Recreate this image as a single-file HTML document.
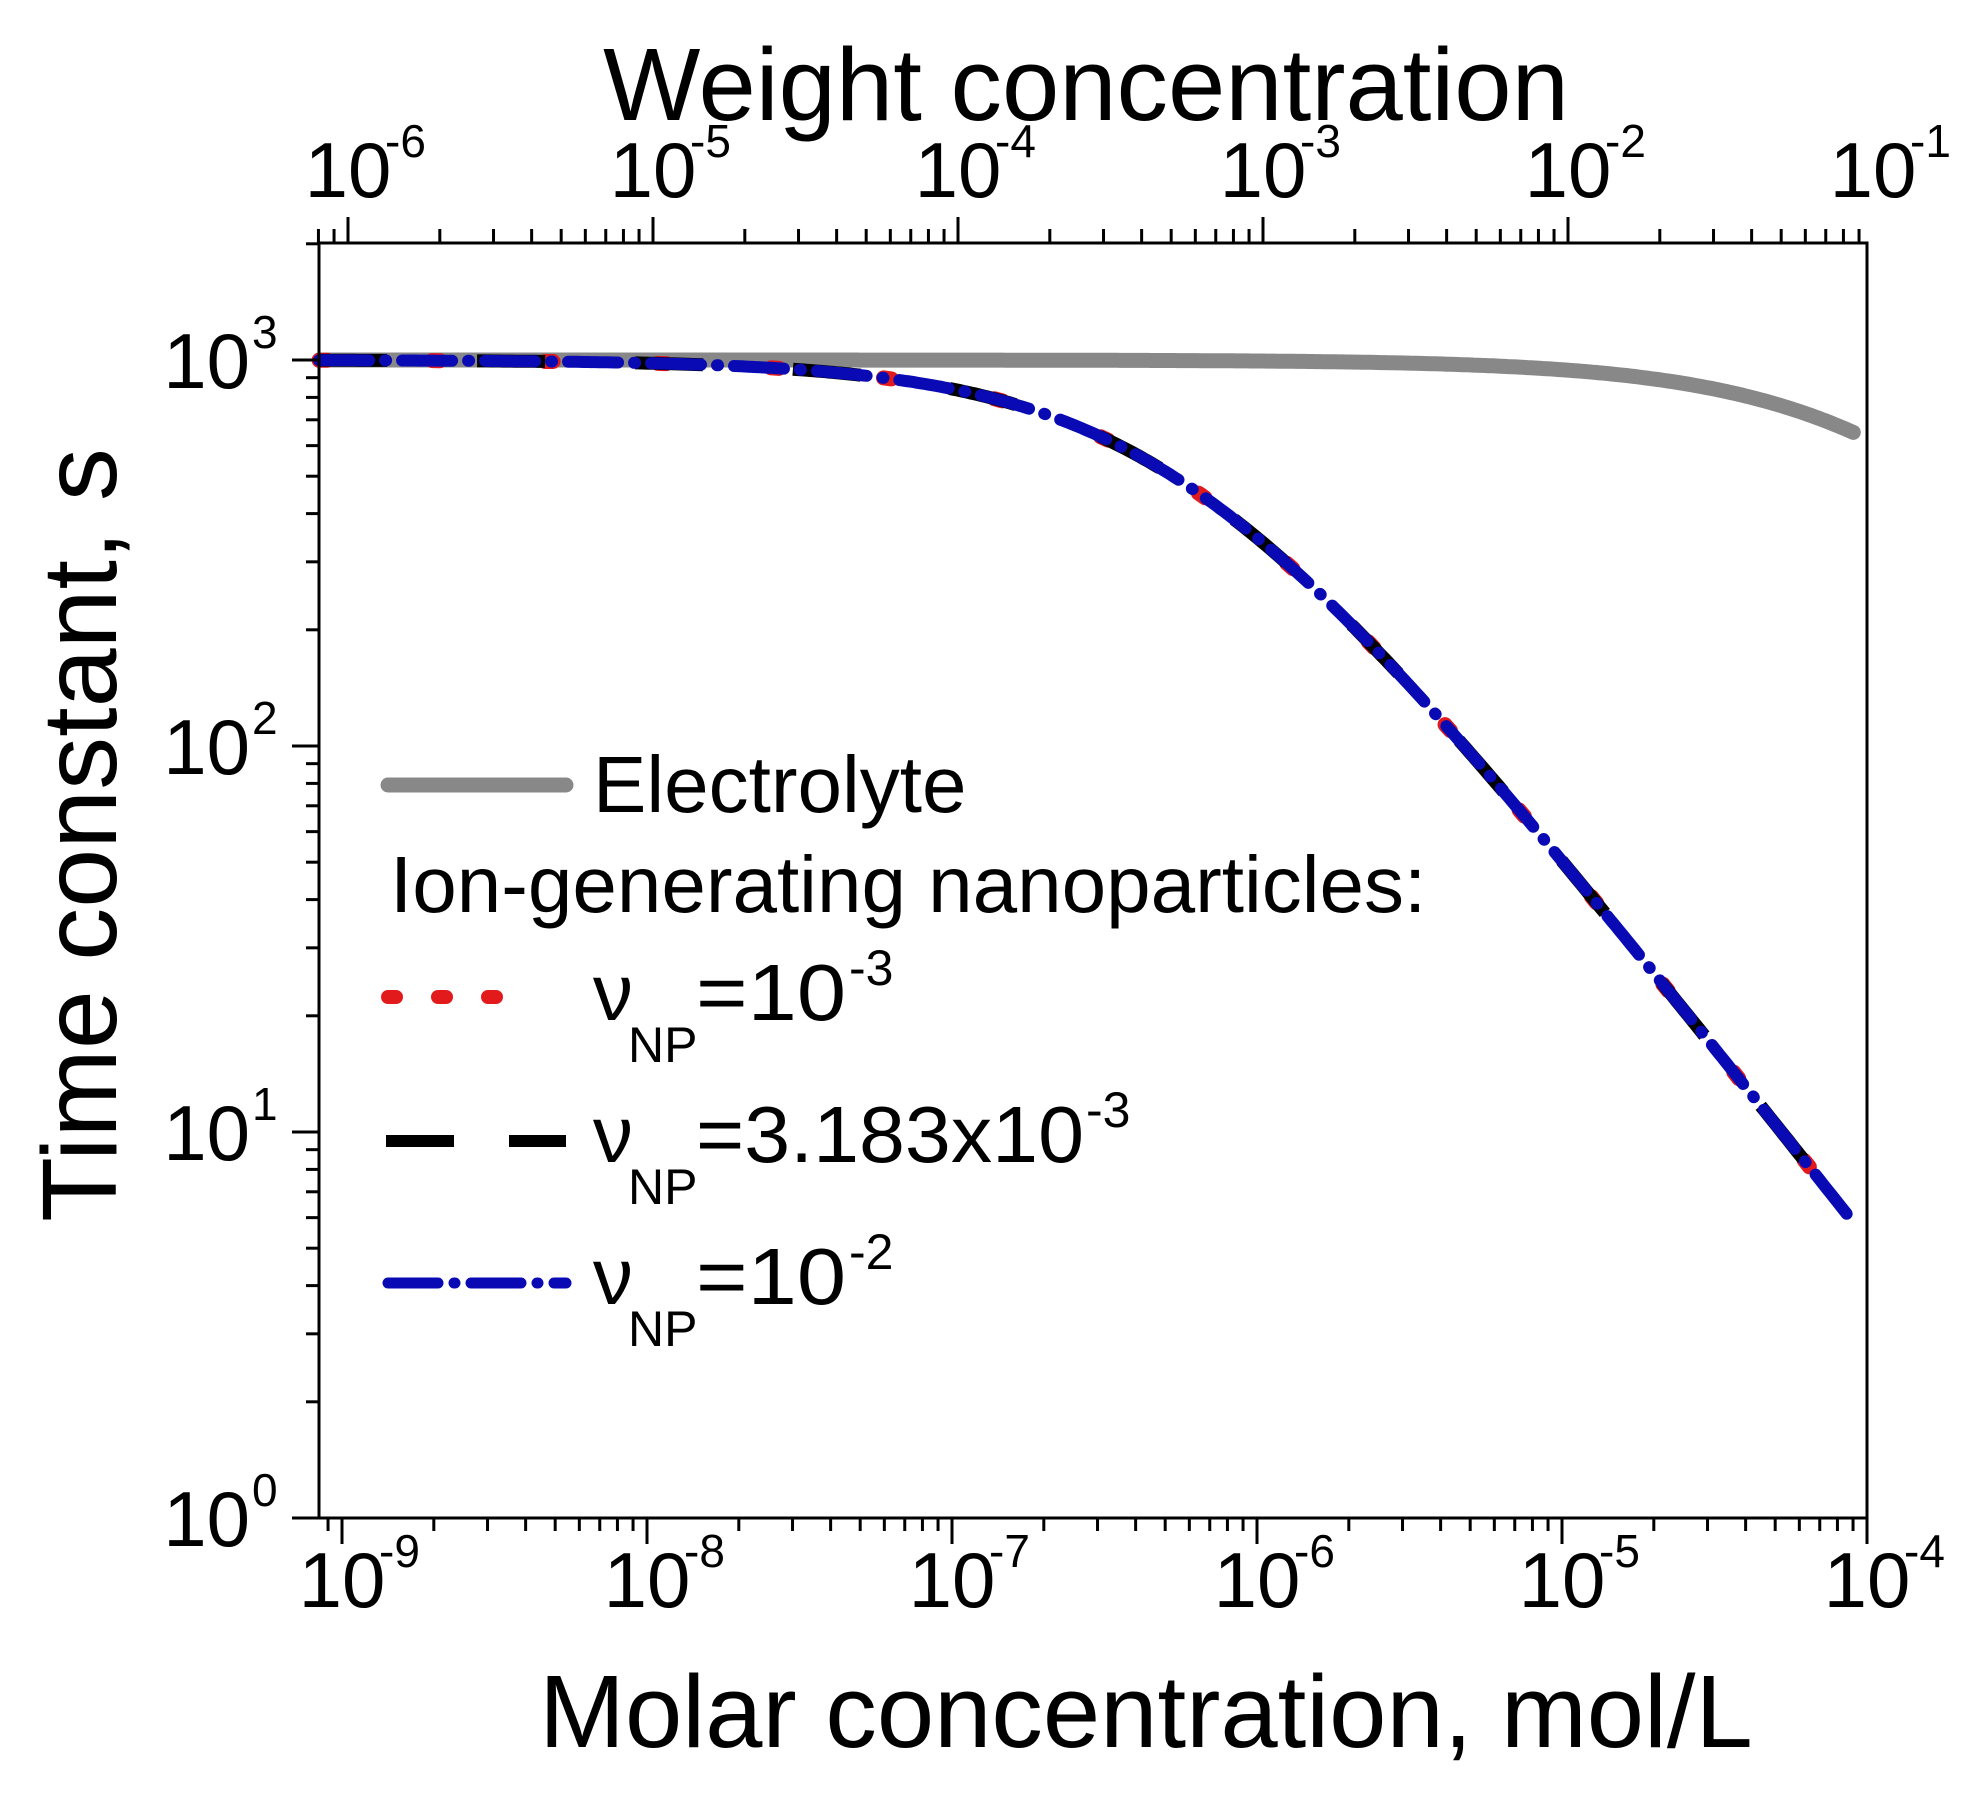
<!DOCTYPE html>
<html><head><meta charset="utf-8"><style>
html,body{margin:0;padding:0;background:#fff;}
svg{display:block;}
text{font-family:"Liberation Sans",Arial,sans-serif;fill:#000;}
</style></head><body>
<svg id="s" width="1982" height="1800" xmlns="http://www.w3.org/2000/svg">
<rect x="0" y="0" width="1982" height="1800" fill="#fff"/>
<g id="g"></g>
<text x="1086" y="120" font-size="103" text-anchor="middle">Weight concentration</text>
<text x="1146" y="1747" font-size="103" text-anchor="middle">Molar concentration, mol/L</text>
<text transform="translate(116,835) rotate(-90)" font-size="106" text-anchor="middle">Time constant, s</text>
<line x1="388" y1="785" x2="566" y2="785" stroke="#888" stroke-width="15" stroke-linecap="round"/>
<text x="593" y="812" font-size="80">Electrolyte</text>
<text x="390" y="912" font-size="80">Ion-generating nanoparticles:</text>
<line x1="388" y1="997" x2="502" y2="997" stroke="#e31a1c" stroke-width="14" stroke-linecap="round" stroke-dasharray="8 42"/>
<line x1="386" y1="1141" x2="566" y2="1141" stroke="#000" stroke-width="12" stroke-dasharray="68 55"/>
<line x1="388" y1="1283" x2="566" y2="1283" stroke="#0a0ab4" stroke-width="11" stroke-linecap="round" stroke-dasharray="50 16 1 16"/>
<text x="593" y="1020" font-size="80">ν</text><text x="628" y="1062" font-size="50">NP</text><text x="696" y="1020" font-size="80" textLength="150" lengthAdjust="spacingAndGlyphs">=10</text><text x="849" y="985" font-size="50">-3</text>
<text x="593" y="1162" font-size="80">ν</text><text x="628" y="1204" font-size="50">NP</text><text x="696" y="1162" font-size="80" textLength="388" lengthAdjust="spacingAndGlyphs">=3.183x10</text><text x="1086" y="1127" font-size="50">-3</text>
<text x="593" y="1304" font-size="80">ν</text><text x="628" y="1346" font-size="50">NP</text><text x="696" y="1304" font-size="80" textLength="150" lengthAdjust="spacingAndGlyphs">=10</text><text x="849" y="1269" font-size="50">-2</text>
</svg>
<script>
(function(){
var NS="http://www.w3.org/2000/svg",g=document.getElementById("g");
function el(t,a,txt){var e=document.createElementNS(NS,t);for(var k in a)e.setAttribute(k,a[k]);if(txt!=null)e.textContent=txt;g.appendChild(e);return e;}
var L=319,R=1867,T=243,B=1518;
var X9=342,DX=305;
var Y3=360,DY=386;
function px(lc){return X9+(lc+9)*DX;}
function py(lt){return Y3-(lt-3)*DY;}
function path(f){var d="";var a=-9.075,b=-4.045;for(var i=0;i<=400;i++){var lc=a+i*((b-a)/400);var c=Math.pow(10,lc);var t=f(c);d+=(i?"L":"M")+px(lc).toFixed(1)+","+py(Math.log10(t)).toFixed(1);}return d;}
var el1=function(c){return 1000/(1+c/1.67e-4);};
var np=function(c){return 1000/(1+c/5.3e-7);};
el("path",{d:path(el1),fill:"none",stroke:"#888","stroke-width":15,"stroke-linecap":"round"});
el("path",{d:path(np),fill:"none",stroke:"#e31a1c","stroke-width":15,"stroke-linecap":"round","stroke-dasharray":"8 105"});
el("path",{d:path(np),fill:"none",stroke:"#000","stroke-width":13,"stroke-dasharray":"68 90"});
el("path",{d:path(np),fill:"none",stroke:"#0a0ab4","stroke-width":12,"stroke-linecap":"round","stroke-dasharray":"50 16 1 16"});
el("rect",{x:L,y:T,width:R-L,height:B-T,fill:"none",stroke:"#000","stroke-width":3});
for(var e=-10;e<=-4;e++){for(var m=1;m<10;m++){var x=px(e+Math.log10(m));if(x<L-1||x>R+1)continue;var len=(m==1)?26:13;el("line",{x1:x,y1:B,x2:x,y2:B+len,stroke:"#000","stroke-width":3});if(e==-4)break;}}
var XT=348;
for(var e=-7;e<=-1;e++){for(var m=1;m<10;m++){var x=XT+(e+6+Math.log10(m))*DX;if(x<L-1||x>R+1)continue;var len=(m==1)?26:14;el("line",{x1:x,y1:T,x2:x,y2:T-len,stroke:"#000","stroke-width":3});}}
for(var e=0;e<=3;e++){for(var m=1;m<10;m++){var y=py(e+Math.log10(m));if(y<T-1||y>B+1)continue;var len=(m==1)?27:13;el("line",{x1:L,y1:y,x2:L-len,y2:y,stroke:"#000","stroke-width":3});if(e==3&&m>=2)break;}}
function lab(x,y,ex,anchorRight){
 if(anchorRight){el("text",{x:x,y:y,"font-size":78,"text-anchor":"end"},"10");el("text",{x:x+2,y:y-40,"font-size":46},ex);}
 else{el("text",{x:x,y:y,"font-size":78,"text-anchor":"middle"},"10");el("text",{x:x+37,y:y-40,"font-size":46},ex);}
}
for(var e=-9;e<=-4;e++)lab(px(e),1607,String(e));
for(var e=-6;e<=-1;e++)lab(XT+(e+6)*DX,197,String(e));
for(var e=0;e<=3;e++)lab(250,py(e)+28,String(e),true);
})();
</script>
</body></html>
